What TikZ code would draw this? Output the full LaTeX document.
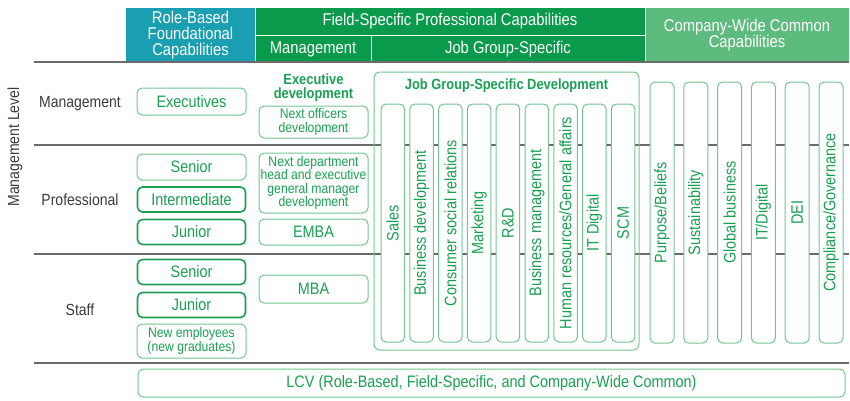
\documentclass[tikz,border=0pt]{standalone}
\usepackage{fontspec}
\setmainfont[FakeStretch=0.87]{Liberation Sans}
\definecolor{hdteal}{HTML}{1A9FB2}
\definecolor{hdgreen}{HTML}{0A9A4C}
\definecolor{hdlight}{HTML}{5EBB7E}
\definecolor{bxlight}{HTML}{74C691}
\definecolor{bxdark}{HTML}{1E9E52}
\definecolor{txgreen}{HTML}{1AA052}
\definecolor{txgray}{HTML}{3A3A3A}
\definecolor{lngray}{HTML}{6A6A6A}
\newcommand\fsz[2]{\fontsize{#1pt}{#2pt}\selectfont}
\begin{document}
\begin{tikzpicture}[x=1pt,y=-1pt,
  lbox/.style={draw=bxlight, line width=1pt, rounded corners=5pt, fill=white, inner sep=0pt, align=center, text=txgreen, font=\fsz{16.6}{16}},
  dbox/.style={lbox, draw=bxdark, line width=1.6pt},
  sbox/.style={lbox, font=\fsz{14}{13.3}},
  vcol/.style={lbox, rotate=90, minimum height=23.5pt},
  ccol/.style={lbox, rotate=90, minimum height=24pt, minimum width=261pt},
  jcol/.style={vcol, minimum width=238pt},
  hdtext/.style={text=white, align=center, font=\fsz{17}{16}, inner sep=0pt},
  rowlab/.style={text=txgray, font=\fsz{16.1}{16}, inner sep=0pt},
  btitle/.style={text=txgreen, align=center, font=\bfseries\fsz{14.8}{14}, inner sep=0pt},
  sepline/.style={lngray, line width=1.5pt}]
\useasboundingbox (0,0) rectangle (850,400);
% header fills
\fill[hdteal] (126,8) rectangle (255,62);
\fill[hdgreen] (255,8) rectangle (645,62);
\fill[hdlight] (645,8) rectangle (849,62);
\draw[white, line width=1pt] (255,8) -- (255,62);
\draw[white, line width=1pt] (645,8) -- (645,62);
\draw[white, line width=1pt] (255,35.5) -- (645,35.5);
\draw[white, line width=1pt] (371,35.5) -- (371,62);
\node[hdtext] (hrole) at (190.5,35) {Role-Based\\Foundational\\Capabilities};
\node[hdtext] (hfield) at (450,21.5) {Field-Specific Professional Capabilities};
\node[hdtext] (hmgmt) at (313,49) {Management};
\node[hdtext] (hjob) at (508,49) {Job Group-Specific};
\node[hdtext] (hcomp) at (747,35) {Company-Wide Common\\Capabilities};
% row separators
\draw[sepline] (34,62) -- (849,62);
\draw[sepline] (34,145) -- (849,145);
\draw[sepline] (34,254) -- (849,254);
\draw[sepline] (34,363) -- (849,363);
% row labels
\node[rowlab, rotate=90] (mlevel) at (15,147) {Management Level};
\node[rowlab] (rmgmt) at (80,104) {Management};
\node[rowlab] (rprof) at (80,200) {Professional};
\node[rowlab] (rstaff) at (80,310) {Staff};
% role-based column
\node[lbox, minimum width=109pt, minimum height=27pt] (exec) at (191.5,101.5) {Executives};
\node[lbox, minimum width=109pt, minimum height=26pt] (psen) at (191.5,167) {Senior};
\node[dbox, minimum width=108pt, minimum height=25pt] (pint) at (191.5,199.5) {Intermediate};
\node[dbox, minimum width=108pt, minimum height=25pt] (pjun) at (191.5,232) {Junior};
\node[dbox, minimum width=108pt, minimum height=25pt] (ssen) at (191.5,272) {Senior};
\node[dbox, minimum width=108pt, minimum height=25pt] (sjun) at (191.5,305) {Junior};
\node[sbox, minimum width=109pt, minimum height=34pt] (snew) at (191.5,341) {New employees\\(new graduates)};
% management column
\node[btitle] (execdev) at (313.5,88) {Executive\\development};
\node[sbox, minimum width=109pt, minimum height=32pt] (nextoff) at (313.5,122) {Next officers\\development};
\node[sbox, minimum width=109pt, minimum height=60pt] (nextdept) at (313.5,183) {Next department\\head and executive\\general manager\\development};
\node[lbox, minimum width=109pt, minimum height=26pt] (emba) at (313.5,232) {EMBA};
\node[lbox, minimum width=109pt, minimum height=28pt] (mba) at (313.5,289) {MBA};
% job group-specific
\node[draw=bxlight, line width=1pt, rounded corners=6pt, inner sep=0pt, minimum width=265pt, minimum height=278pt] (jobbox) at (506.5,211) {};
\node[btitle] (jobtitle) at (506.5,86) {Job Group-Specific Development};
\node[jcol] (j1) at (392.75,223) {Sales};
\node[jcol] (j2) at (421.55,223) {Business development};
\node[jcol] (j3) at (450.35,223) {Consumer social relations};
\node[jcol] (j4) at (479.15,223) {Marketing};
\node[jcol] (j5) at (507.95,223) {R\&D};
\node[jcol] (j6) at (536.75,223) {Business management};
\node[jcol] (j7) at (565.55,223) {Human resources/General affairs};
\node[jcol] (j8) at (594.35,223) {IT Digital};
\node[jcol] (j9) at (623.15,223) {SCM};
% company-wide
\node[ccol] (c1) at (662,212.5) {Purpose/Beliefs};
\node[ccol] (c2) at (695.8,212.5) {Sustainability};
\node[ccol] (c3) at (729.6,212.5) {Global business};
\node[ccol] (c4) at (763.4,212.5) {IT/Digital};
\node[ccol] (c5) at (797.2,212.5) {DEI};
\node[ccol] (c6) at (831,212.5) {Compliance/Governance};
% LCV
\node[lbox, minimum width=707pt, minimum height=28pt] (lcv) at (491.5,383) {LCV (Role-Based, Field-Specific, and Company-Wide Common)};
\end{tikzpicture}
\end{document}
